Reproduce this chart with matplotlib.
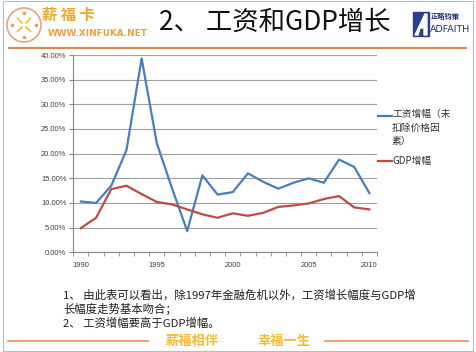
import numpy as np
import matplotlib
matplotlib.use('Agg')
import matplotlib.pyplot as plt
from matplotlib.patches import Circle, Rectangle, Polygon

# ================================================================
# Data (in %)
# ================================================================
years = list(range(1990, 2010))
wage_growth = [10.3, 10.0, 13.5, 20.7, 39.3, 22.1, 13.0, 4.3, 15.6, 11.7,
               12.2, 16.0, 14.3, 12.9, 14.1, 15.0, 14.1, 18.8, 17.3, 12.0]
gdp_growth = [4.9, 7.0, 12.8, 13.5, 11.8, 10.2, 9.7, 8.7, 7.7, 7.0,
              7.9, 7.4, 8.0, 9.2, 9.5, 9.9, 10.8, 11.4, 9.1, 8.7]
xtick_pos = [0, 5, 10, 15, 19]
xtick_labels = ['1990', '1995', '2000', '2005', '2010']
yticks = [0, 5, 10, 15, 20, 25, 30, 35, 40]

wage_label = '工资增幅（未\n扣除价格因\n素）'
gdp_label = 'GDP增幅'
title = '2、 工资和GDP增长'
notes = ['1、 由此表可以看出，除1997年金融危机以外，工资增长幅度与GDP增',
         '长幅度走势基本吻合；',
         '2、 工资增幅要高于GDP增幅。']

CJK = ['Noto Sans CJK SC', 'DejaVu Sans']
BLUE = '#4a7ebb'
RED = '#be4b48'

fig = plt.figure(figsize=(4.76, 3.52), dpi=100)
fig.patch.set_facecolor('white')

# ================================================================
# Slide decoration (pixel coordinates)
# ================================================================
bg = fig.add_axes([0, 0, 1, 1])
bg.set_xlim(0, 476)
bg.set_ylim(352, 0)
bg.axis('off')

bg.add_patch(Rectangle((3, 1), 470, 350, fill=False, ec='#b4bfcc', lw=0.8))

# header line
bg.plot([8, 467], [47.5, 47.5], color='#d98b55', lw=1.6, solid_capstyle='butt')

# left logo
bg.add_patch(Circle((24, 25), 17, fill=False, ec='#e9a47a', lw=1.2))
for ang in np.deg2rad([45, 135, 225, 315]):
    bg.plot([24 + 3 * np.cos(ang), 24 + 9 * np.cos(ang)],
            [25 + 3 * np.sin(ang), 25 + 9 * np.sin(ang)],
            color='#f2c443', lw=1.4)
for px, py in [(24, 13), (24, 37), (12, 25), (36, 25)]:
    bg.plot(px, py, 'o', ms=1.5, color='#e6a060')
bg.text(42, 15, '薪 福 卡', family=CJK, fontsize=11, fontweight='bold',
        color='#f0a82c', va='center', ha='left')
bg.text(48, 33, 'WWW.XINFUKA.NET', family='DejaVu Sans', fontsize=6.4,
        color='#f0a040', va='center', ha='left', fontweight='bold')

# title
bg.text(275, 22, title, family=CJK, fontsize=19, color='#111111',
        ha='center', va='center')

# right logo
bg.add_patch(Rectangle((413, 12), 16, 24, color='#2b3f8f'))
bg.add_patch(Polygon([[415, 35], [425, 14], [427, 14], [427, 35], [424, 35],
                      [424, 28], [420, 28], [418, 35]], color='white'))
bg.text(431, 16, '正略钧策', family=CJK, fontsize=5.2, fontweight='bold',
        color='#1f2f6f', va='center', ha='left')
bg.text(430, 29, 'ADFAITH', family='DejaVu Sans', fontsize=6.8,
        color='#1f2f6f', va='center', ha='left')

# notes
for i, line in enumerate(notes):
    bg.text(63, 295 + 14 * i, line, family=CJK, fontsize=8.2, color='#202020',
            ha='left', va='center')

# footer
bg.plot([8, 148], [341, 341], color='#e8884c', lw=1.1)
bg.plot([325, 468], [341, 341], color='#e8884c', lw=1.1)
bg.text(192, 341, '薪福相伴', family=CJK, fontsize=9.5, fontweight='bold',
        color='#f5bb3a', ha='center', va='center')
bg.text(284, 341, '幸福一生', family=CJK, fontsize=9.5, fontweight='bold',
        color='#f5bb3a', ha='center', va='center')

# legend (drawn by hand to match the slide)
bg.plot([378, 392], [116, 116], color=BLUE, lw=1.6)
bg.text(392, 109, wage_label, family=CJK, fontsize=7, color='#333333',
        ha='left', va='top', linespacing=1.45)
bg.plot([378, 392], [161, 161], color=RED, lw=1.6)
bg.text(392, 161, gdp_label, family=CJK, fontsize=7, color='#333333',
        ha='left', va='center')

# ================================================================
# Chart
# ================================================================
ax = fig.add_axes([73.3 / 476, 1 - 252.3 / 352, 303.7 / 476, 197.3 / 352])
ax.set_facecolor('none')
x = np.arange(len(years))
ax.plot(x, wage_growth, color=BLUE, lw=1.6, solid_joinstyle='round')
ax.plot(x, gdp_growth, color=RED, lw=1.6, solid_joinstyle='round')

ax.set_xlim(-0.5, len(years) - 0.5)
ax.set_ylim(0, 40)
ax.set_yticks(yticks)
ax.set_yticklabels([f'{v:.2f}%' for v in yticks])
ax.set_xticks(xtick_pos)
ax.set_xticklabels(xtick_labels)
ax.set_xticks(np.arange(-0.5, len(years), 1.0), minor=True)
ax.tick_params(axis='x', which='major', length=0, pad=7)
ax.tick_params(axis='x', which='minor', length=3, color='#888888', direction='out')
ax.tick_params(axis='y', length=3, color='#888888', pad=2)
for lab in ax.get_xticklabels() + ax.get_yticklabels():
    lab.set_fontsize(5.4)
    lab.set_family('Liberation Sans')
    lab.set_color('#404040')

ax.grid(axis='y', color='#a0a0a0', lw=0.8)
ax.set_axisbelow(True)
for side in ['top', 'right']:
    ax.spines[side].set_visible(False)
for side in ['left', 'bottom']:
    ax.spines[side].set_color('#888888')
    ax.spines[side].set_linewidth(0.8)

fig.savefig('out.png', dpi=100)
